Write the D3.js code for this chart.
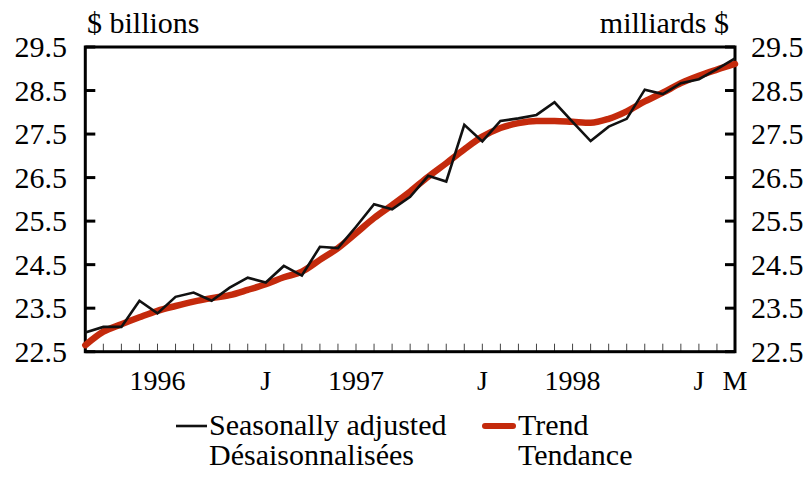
<!DOCTYPE html>
<html>
<head>
<meta charset="utf-8">
<script src="https://cdn.jsdelivr.net/npm/d3@7/dist/d3.min.js"></script>
<style>
  body { margin: 0; background: #fff; }
  text { font-family: "Liberation Serif", "Times New Roman", serif; fill: #000; }
</style>
</head>
<body>
<div id="chart"></div>
<script>
// Months shown: March 1996 to March 1999
var months = d3.timeMonth.range(new Date(1996, 2, 1), new Date(1999, 3, 1));

// Seasonally adjusted series ($ billions)
var adjusted = [22.94, 23.07, 23.07, 23.67, 23.38, 23.76, 23.86, 23.67, 23.97, 24.20,
                24.09, 24.47, 24.25, 24.91, 24.88, 25.37, 25.89, 25.77, 26.06, 26.54,
                26.41, 27.71, 27.33, 27.80, 27.86, 27.94, 28.23, 27.78, 27.34, 27.67,
                27.85, 28.52, 28.42, 28.67, 28.76, 28.99, 29.24];

// Trend series
var trend = [22.65, 22.96, 23.13, 23.29, 23.44, 23.55, 23.65, 23.73, 23.80, 23.92,
             24.05, 24.21, 24.34, 24.61, 24.88, 25.22, 25.57, 25.87, 26.18, 26.52,
             26.83, 27.15, 27.44, 27.64, 27.75, 27.80, 27.80, 27.78, 27.76, 27.85,
             28.02, 28.25, 28.45, 28.67, 28.84, 28.98, 29.11];

// Axis labels
var yTicks = [22.5, 23.5, 24.5, 25.5, 26.5, 27.5, 28.5, 29.5];
var xLabelMonths = ["1996-07", "1997-01", "1997-06", "1998-01", "1998-06", "1999-01", "1999-03"];
var xLabelText = ["1996", "J", "1997", "J", "1998", "J", "M"];

var legendText = [["Seasonally adjusted", "Désaisonnalisées"], ["Trend", "Tendance"]];

var fmt = d3.timeFormat("%Y-%m");
var keys = months.map(fmt);

var width = 804, height = 477;
var plotLeft = 85.3, plotRight = 735, plotTop = 47, plotBottom = 351.7;

var svg = d3.select("#chart").append("svg")
    .attr("width", width)
    .attr("height", height);

var x = d3.scalePoint().domain(keys).range([plotLeft, plotRight]);
var y = d3.scaleLinear().domain([22.5, 29.5]).range([plotBottom, plotTop]);

// Monthly ticks along the bottom
svg.append("g")
    .selectAll("line")
    .data(keys)
    .enter()
    .append("line")
    .attr("x1", function(d) { return x(d); })
    .attr("x2", function(d) { return x(d); })
    .attr("y1", plotBottom)
    .attr("y2", plotBottom - 8)
    .attr("stroke", "#444")
    .attr("stroke-width", 1);

// Y ticks, inside on both sides
var yt = svg.append("g");
yt.selectAll(".tl")
    .data(yTicks)
    .enter()
    .append("line")
    .attr("class", "tl")
    .attr("x1", plotLeft).attr("x2", plotLeft + 10)
    .attr("y1", y).attr("y2", y)
    .attr("stroke", "#000").attr("stroke-width", 3);
yt.selectAll(".tr")
    .data(yTicks)
    .enter()
    .append("line")
    .attr("class", "tr")
    .attr("x1", plotRight - 10).attr("x2", plotRight)
    .attr("y1", y).attr("y2", y)
    .attr("stroke", "#000").attr("stroke-width", 3);

// Frame
svg.append("rect")
    .attr("x", plotLeft).attr("y", plotTop)
    .attr("width", plotRight - plotLeft).attr("height", plotBottom - plotTop)
    .attr("fill", "none")
    .attr("stroke", "#000")
    .attr("stroke-width", 3);

// Y labels
svg.append("g").selectAll("text")
    .data(yTicks)
    .enter()
    .append("text")
    .attr("x", 67)
    .attr("y", y)
    .attr("dy", "0.34em")
    .attr("text-anchor", "end")
    .style("font-size", "30px")
    .text(function(d) { return d.toFixed(1); });
svg.append("g").selectAll("text")
    .data(yTicks)
    .enter()
    .append("text")
    .attr("x", 751)
    .attr("y", y)
    .attr("dy", "0.34em")
    .attr("text-anchor", "start")
    .style("font-size", "30px")
    .text(function(d) { return d.toFixed(1); });

// X labels
svg.append("g").selectAll("text")
    .data(xLabelMonths)
    .enter()
    .append("text")
    .attr("x", function(d) { return x(d); })
    .attr("y", 390)
    .attr("text-anchor", "middle")
    .style("font-size", "28px")
    .text(function(d, i) { return xLabelText[i]; });

// Unit labels
svg.append("text")
    .attr("x", 87).attr("y", 33)
    .style("font-size", "30px")
    .text("$ billions");
svg.append("text")
    .attr("x", 729).attr("y", 33)
    .attr("text-anchor", "end")
    .style("font-size", "30px")
    .text("milliards $");

// Lines
var line = d3.line()
    .x(function(d, i) { return x(keys[i]); })
    .y(function(d) { return y(d); });

svg.append("path")
    .datum(trend)
    .attr("d", line.curve(d3.curveMonotoneX))
    .attr("fill", "none")
    .attr("stroke", "#c42a0c")
    .attr("stroke-width", 6.5)
    .attr("stroke-linecap", "round")
    .attr("stroke-linejoin", "round");

svg.append("path")
    .datum(adjusted)
    .attr("d", line.curve(d3.curveLinear))
    .attr("fill", "none")
    .attr("stroke", "#111")
    .attr("stroke-width", 2.6);

// Legend
var legend = svg.append("g");
legend.append("line")
    .attr("x1", 176).attr("x2", 207).attr("y1", 426).attr("y2", 426)
    .attr("stroke", "#111").attr("stroke-width", 2.6);
legend.append("line")
    .attr("x1", 485).attr("x2", 513).attr("y1", 426).attr("y2", 426)
    .attr("stroke", "#c42a0c").attr("stroke-width", 6).attr("stroke-linecap", "round");

var lx = [209, 518];
legendText.forEach(function(pair, i) {
    legend.append("text")
        .attr("x", lx[i]).attr("y", 435)
        .style("font-size", "30px")
        .text(pair[0]);
    legend.append("text")
        .attr("x", lx[i]).attr("y", 465)
        .style("font-size", "30px")
        .text(pair[1]);
});
</script>
</body>
</html>
